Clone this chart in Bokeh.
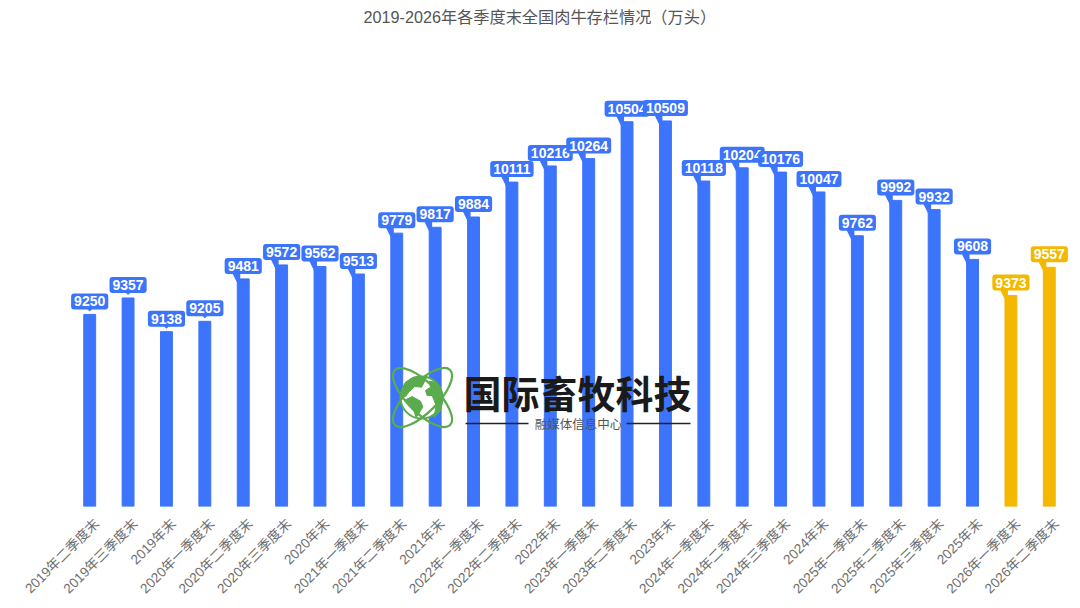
import math
from bokeh.plotting import figure
from bokeh.models import ColumnDataSource, Range1d, FixedTicker, LinearAxis
from bokeh.core.properties import value
from bokeh.embed import file_html
from bokeh.resources import INLINE

categories = ["2019年二季度末","2019年三季度末","2019年末","2020年一季度末","2020年二季度末","2020年三季度末","2020年末",
              "2021年一季度末","2021年二季度末","2021年末","2022年一季度末","2022年二季度末","2022年末",
              "2023年一季度末","2023年二季度末","2023年末","2024年一季度末","2024年二季度末","2024年三季度末","2024年末",
              "2025年一季度末","2025年二季度末","2025年三季度末","2025年末","2026年一季度末","2026年二季度末"]
values = [9250,9357,9138,9205,9481,9572,9562,9513,9779,9817,9884,10111,10216,10264,10504,10509,
          10118,10204,10176,10047,9762,9992,9932,9608,9373,9557]
BLUE, GOLD = "#3C74FB", "#F4B800"
colors = [BLUE]*24 + [GOLD]*2
FONT = "'Liberation Sans', 'Noto Sans CJK SC'"

FW, FH = 998, 476
Y0, Y1 = 8000, 8000 + 476 * 3000 / 461
px_x = len(values) / FW           # data units per pixel, x
px_y = (Y1 - Y0) / FH             # data units per pixel, y

p = figure(width=1080, height=608, output_backend="svg", toolbar_location=None,
           x_range=Range1d(-0.5, 25.5), y_range=Range1d(Y0, Y1),
           frame_width=FW, frame_height=FH,
           min_border_left=70, min_border_right=12, min_border_top=30, min_border_bottom=102,
           outline_line_color=None, background_fill_color="white", border_fill_color="white",
           x_axis_type=None, y_axis_type=None, title="2019-2026年各季度末全国肉牛存栏情况（万头）")
p.grid.visible = False
p.title.text_font = FONT
p.title.text_font_size = "16.2px"
p.title.text_font_style = "normal"
p.title.text_color = "#555555"
p.title.align = "left"
p.title.offset = 293
p.title.standoff = 9

# the rotated labels sit slightly right of their bars
p.extra_x_ranges["labels"] = Range1d(-0.5 - 0.19, 25.5 - 0.19)
ax = LinearAxis(x_range_name="labels")
ax.ticker = FixedTicker(ticks=list(range(len(values))))
ax.major_label_overrides = {i: c for i, c in enumerate(categories)}
ax.major_label_orientation = math.pi / 4
ax.major_label_text_font = FONT
ax.major_label_text_font_size = "13.6px"
ax.major_label_text_color = "#6E6E6E"
ax.major_label_standoff = 9
ax.axis_line_color = None
ax.major_tick_line_color = None
ax.minor_tick_line_color = None
p.add_layout(ax, "below")

xs = list(range(len(values)))
src = ColumnDataSource(dict(x=xs, top=values, color=colors, label=[str(v) for v in values]))
p.vbar(x="x", top="top", bottom=Y0, width=0.31, color="color", source=src)

# callout tails that connect each label to its bar
tx, ty, tc = [], [], []
for i, (v, c) in enumerate(zip(values, colors)):
    lb = v + 5 * px_y
    if i < 4:
        tx.append([i - 3*px_x, i + 3*px_x, i])
        ty.append([lb + 1*px_y, lb + 1*px_y, v + 3*px_y])
    else:
        tx.append([i - 11*px_x, i - 3*px_x, i - 3*px_x, i - 6*px_x])
        ty.append([lb + 1*px_y, lb + 1*px_y, v - 1*px_y, v - 4*px_y])
    tc.append(c)
p.patches(tx, ty, fill_color=tc, line_color=None)

p.text(x="x", y="top", text="label", source=src, y_offset=-13,
       text_font=value("Liberation Sans"), text_font_style="bold", text_font_size="14px",
       text_color="white", text_align="center", text_baseline="middle",
       background_fill_color="color", padding=3, border_radius=3)

# logo, drawn in page pixel coordinates
p.extra_x_ranges["px"] = Range1d(70, 1068)
p.extra_y_ranges["px"] = Range1d(506, 30)
G = "#5AAB4E"
kw = dict(x_range_name="px", y_range_name="px")
p.circle([421], [397], radius=21, fill_color="white", line_color=G, line_width=2, **kw)
def z(pts):
    return [385 + a / 3 for a, b in pts], [360 + b / 3 for a, b in pts]
land = [
    [(48,90),(60,65),(85,50),(125,48),(118,62),(108,80),(88,78),(72,92),(60,108),(50,108)],
    [(60,118),(80,108),(105,122),(112,140),(100,158),(92,172),(85,150),(75,132)],
    [(120,90),(135,80),(130,62),(150,65),(168,90),(172,120),(165,150),(145,172),(152,135),(140,105),(125,105)],
]
lx, ly = zip(*[z(l) for l in land])
p.patches(list(lx), list(ly), fill_color=G, line_color=G, **kw)
p.ellipse([422, 422], [397, 397], width=78, height=30, angle=[math.pi/4, -math.pi/4],
          fill_color=None, line_color=G, line_width=2.2, **kw)
p.text([577], [391], text=["国际畜牧科技"], text_font=value("Noto Sans CJK SC"), text_font_style="bold",
       text_font_size="38px", text_color="#1A1A1A", text_align="center", text_baseline="middle", **kw)
p.text([578], [423], text=["融媒体信息中心"], text_font=value("Noto Sans CJK SC"),
       text_font_size="12.5px", text_color="#555555", text_align="center", text_baseline="middle", **kw)
p.segment([465, 626], [423, 423], [528, 690], [423, 423], line_color="#222222", line_width=1.3, **kw)

open("out.html", "w").write(file_html(p, INLINE))
